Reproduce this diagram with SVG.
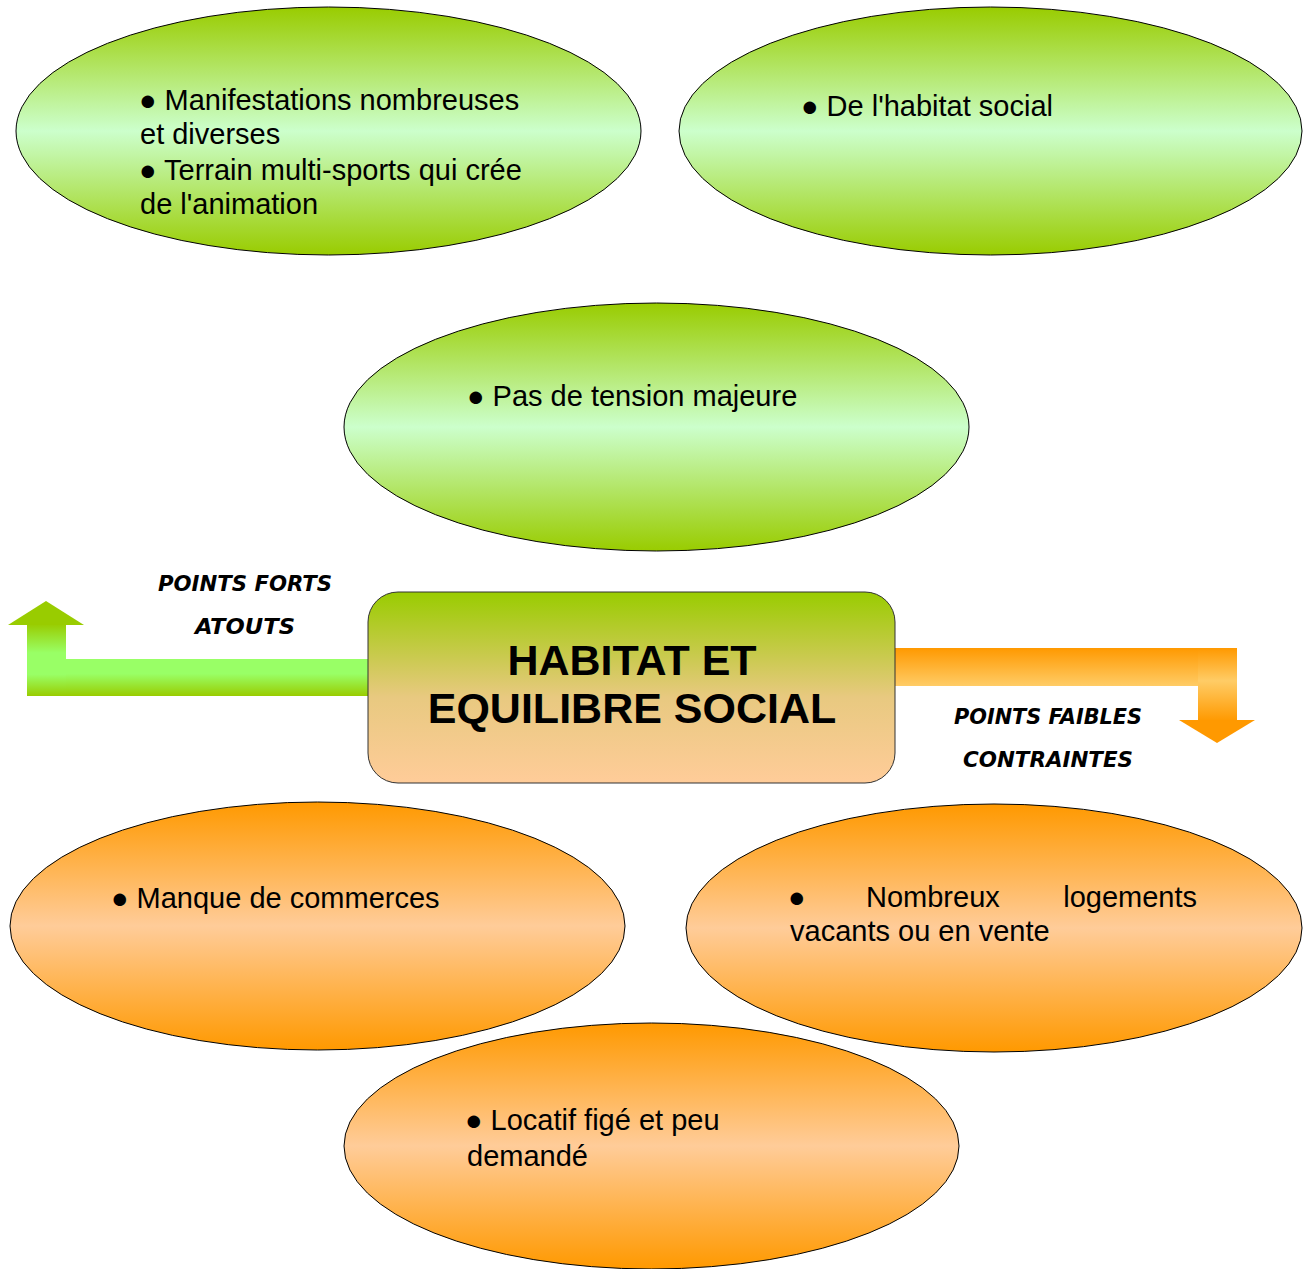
<svg xmlns="http://www.w3.org/2000/svg" width="1303" height="1269" viewBox="0 0 1303 1269">
<defs>
<linearGradient id="gGreen" x1="0" y1="0" x2="0" y2="1">
<stop offset="0" stop-color="#99cc00"/>
<stop offset="0.5" stop-color="#ccffcc"/>
<stop offset="1" stop-color="#99cc00"/>
</linearGradient>
<linearGradient id="gOrange" x1="0" y1="0" x2="0" y2="1">
<stop offset="0" stop-color="#ff9900"/>
<stop offset="0.5" stop-color="#ffcc99"/>
<stop offset="1" stop-color="#ff9900"/>
</linearGradient>
<linearGradient id="gCenter" x1="0" y1="0" x2="0" y2="1">
<stop offset="0" stop-color="#99cc00"/>
<stop offset="0.55" stop-color="#e8c980"/>
<stop offset="1" stop-color="#ffcc99"/>
</linearGradient>
<linearGradient id="gGreenBar" x1="0" y1="0" x2="0" y2="1">
<stop offset="0" stop-color="#99ff66"/>
<stop offset="0.4" stop-color="#99ff66"/>
<stop offset="1" stop-color="#99cc00"/>
</linearGradient>
<linearGradient id="gGreenUp" x1="0" y1="0" x2="0" y2="1">
<stop offset="0" stop-color="#99cc00"/>
<stop offset="0.4" stop-color="#99ff66"/>
<stop offset="0.7" stop-color="#99ff66"/>
<stop offset="1" stop-color="#99cc00"/>
</linearGradient>
<linearGradient id="gOrangeBar" x1="0" y1="0" x2="0" y2="1">
<stop offset="0" stop-color="#ff9900"/>
<stop offset="1" stop-color="#ffcc66"/>
</linearGradient>
<linearGradient id="gOrangeDown" x1="0" y1="0" x2="0" y2="1">
<stop offset="0" stop-color="#ff9900"/>
<stop offset="0.45" stop-color="#ffcc66"/>
<stop offset="1" stop-color="#ff9900"/>
</linearGradient>
<clipPath id="clip1"><rect x="0" y="0" width="660" height="215"/></clipPath>
</defs>
<style>
.eg{fill:url(#gGreen);stroke:#000;stroke-width:1}
.eo{fill:url(#gOrange);stroke:#000;stroke-width:1}
.t{font-family:"Liberation Sans",Arial,sans-serif;font-size:29px;fill:#000}
.title{font-family:"Liberation Sans",Arial,sans-serif;font-size:43px;font-weight:bold;fill:#000;text-anchor:middle}
.lbl{font-family:"DejaVu Sans Condensed","DejaVu Sans",sans-serif;font-size:22px;font-weight:bold;font-style:italic;fill:#000;text-anchor:middle}
</style>

<g id="connectors">
<g id="arrow-green">
<rect x="27" y="659" width="341" height="37" fill="url(#gGreenBar)"/>
<rect x="27" y="624" width="39" height="72" fill="url(#gGreenUp)"/>
<polygon points="8,625 46,601 84,625" fill="#99cc00"/>
</g>
<g id="arrow-orange">
<rect x="895" y="648" width="342" height="38" fill="url(#gOrangeBar)"/>
<rect x="1198" y="648" width="39" height="73" fill="url(#gOrangeDown)"/>
<polygon points="1179,720 1255,720 1217,743" fill="#ff9900"/>
</g>
</g>

<g id="label-forts">
<text class="lbl" x="245" y="591" textLength="174" lengthAdjust="spacingAndGlyphs">POINTS FORTS</text>
<text class="lbl" x="245" y="634" textLength="100" lengthAdjust="spacingAndGlyphs">ATOUTS</text>
</g>
<g id="label-faibles">
<text class="lbl" x="1048" y="724" textLength="188" lengthAdjust="spacingAndGlyphs">POINTS FAIBLES</text>
<text class="lbl" x="1048" y="767" textLength="170" lengthAdjust="spacingAndGlyphs">CONTRAINTES</text>
</g>

<g id="node-center">
<rect x="368" y="592" width="527" height="191" rx="30" ry="30" fill="url(#gCenter)" stroke="#333" stroke-width="1"/>
<text class="title" x="632" y="675">HABITAT ET</text>
<text class="title" x="632" y="723">EQUILIBRE SOCIAL</text>
</g>

<g id="node-g1">
<ellipse class="eg" cx="328.5" cy="131" rx="312.5" ry="124"/>
<g clip-path="url(#clip1)">
<text class="t" x="139" y="110">● Manifestations nombreuses</text>
<text class="t" x="140" y="144">et diverses</text>
<text class="t" x="139" y="180">● Terrain multi-sports qui crée</text>
<text class="t" x="140" y="214">de l'animation</text>
</g>
</g>

<g id="node-g2">
<ellipse class="eg" cx="990.5" cy="131" rx="311.5" ry="124"/>
<text class="t" x="801" y="116">● De l'habitat social</text>
</g>

<g id="node-g3">
<ellipse class="eg" cx="656.5" cy="427" rx="312.5" ry="124"/>
<text class="t" x="467" y="406">● Pas de tension majeure</text>
</g>

<g id="node-o1">
<ellipse class="eo" cx="317.5" cy="926" rx="307.5" ry="124"/>
<text class="t" x="111" y="908">● Manque de commerces</text>
</g>

<g id="node-o2">
<ellipse class="eo" cx="994" cy="928" rx="308" ry="124"/>
<text class="t" x="788" y="907">●</text>
<text class="t" x="866" y="907">Nombreux</text>
<text class="t" x="1197" y="907" text-anchor="end">logements</text>
<text class="t" x="790" y="941">vacants ou en vente</text>
</g>

<g id="node-o3">
<ellipse class="eo" cx="651.5" cy="1146" rx="307.5" ry="123"/>
<text class="t" x="465" y="1130">● Locatif figé et peu</text>
<text class="t" x="467" y="1166">demandé</text>
</g>
</svg>
